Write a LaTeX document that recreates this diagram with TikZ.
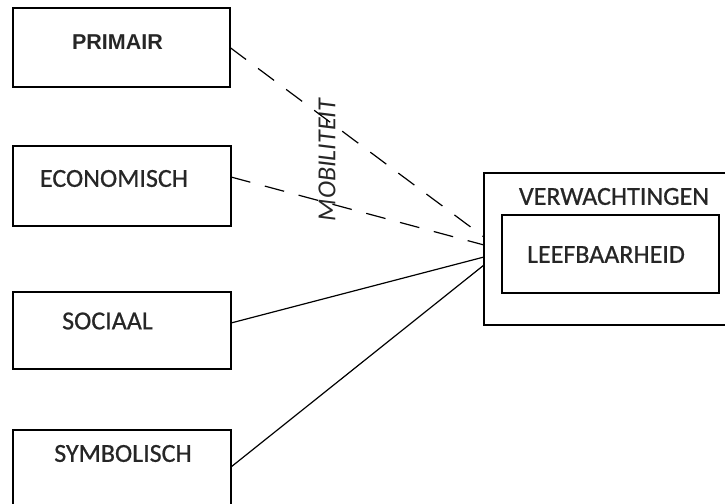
\documentclass[tikz,border=0pt]{standalone}
\usepackage{fontspec}
\setmainfont{Carlito}
\newfontfamily\lblfont{Carlito}[FakeBold=0.7]
\newfontfamily\prfont{Liberation Sans}

\begin{document}
\begin{tikzpicture}[x=1pt,y=-1pt,
  box/.style={draw,line width=1.3pt,inner sep=0pt,outer sep=0pt,
    minimum width=218pt,minimum height=80pt},
  lbl/.style={inner sep=0pt,text=black!85,font=\lblfont\fontsize{26}{31}\selectfont},
  link/.style={line width=1.2pt},
  dashlink/.style={link,dash pattern=on 20pt off 15pt}]
  \useasboundingbox (0,0) rectangle (725,503);
  % boxes
  \node[box,minimum width=217pt,minimum height=79pt] (PR) at (121.5,47.5) {};
  \node[box]                     (EC) at (122,186)   {};
  \node[box,minimum height=77pt] (SO) at (122,330.5) {};
  \node[box]                     (SY) at (122,470)   {};
  \node[box,minimum width=261pt,minimum height=152pt] (VW) at (614.5,249) {};
  \node[box,minimum width=217pt,minimum height=78pt]  (LB) at (610.5,254) {};
  % texts
  \node[lbl,font=\prfont\bfseries\fontsize{21.5}{26}\selectfont] (PRt) at (117.5,42) {PRIMAIR};
  \node[lbl] (ECt) at (114,178.5)   {ECONOMISCH};
  \node[lbl] (SOt) at (107.5,321)   {SOCIAAL};
  \node[lbl] (SYt) at (123,453.5)   {SYMBOLISCH};
  \node[lbl] (VWt) at (614,196.5)   {VERWACHTINGEN};
  \node[lbl] (LBt) at (606,254.5)   {LEEFBAARHEID};
  \node[lbl,font=\itshape\fontsize{26}{31}\selectfont,rotate=90] (MB) at (327,160) {MOBILITEIT};
  % links
  \path
    (PR.east) edge [dashlink] ([yshift=12pt]VW.west)
    ([yshift=9pt]EC.east) edge [dashlink] ([yshift=4pt]VW.west)
    ([yshift=7.5pt]SO.east) edge [link] ([yshift=-8pt]VW.west)
    ([yshift=3pt]SY.east) edge [link] ([yshift=-16pt]VW.west);
\end{tikzpicture}
\end{document}
